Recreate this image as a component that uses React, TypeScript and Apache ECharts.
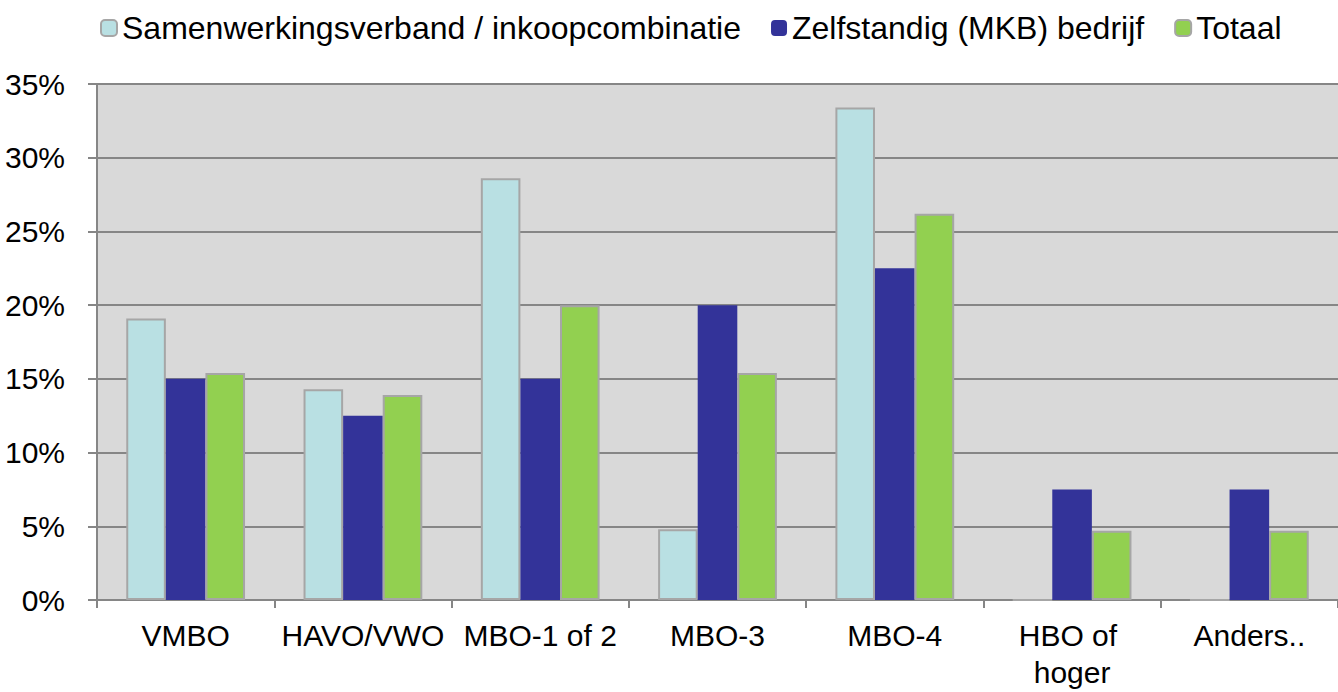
import React, { useEffect, useRef } from "react";
import * as echarts from "echarts";

const categories = ["VMBO", "HAVO/VWO", "MBO-1 of 2", "MBO-3", "MBO-4", "HBO of hoger", "Anders.."];
const seriesNames = ["Samenwerkingsverband / inkoopcombinatie", "Zelfstandig (MKB) bedrijf", "Totaal"];
const samenwerking = [19.1, 14.3, 28.6, 4.8, 33.4, 0, 0];
const zelfstandig = [15.0, 12.5, 15.0, 20.0, 22.5, 7.5, 7.5];
const totaal = [15.4, 13.9, 20.0, 15.4, 26.2, 4.7, 4.7];
const yTicks = { min: 0, max: 35, interval: 5 };

const FONT = "'Liberation Sans', Arial, sans-serif";

export default function App() {
  const ref = useRef<HTMLDivElement>(null);
  useEffect(() => {
    if (!ref.current) return;
    const chart = echarts.init(ref.current, null, { renderer: "svg" });
    const border = "#a6a6a6";
    chart.setOption({
      animation: false,
      backgroundColor: "#ffffff",
      textStyle: { fontFamily: FONT },
      legend: {
        left: 95,
        top: 7,
        itemWidth: 16,
        itemHeight: 16,
        itemGap: 30,
        textStyle: { fontSize: 32, color: "#000", fontFamily: FONT },
        data: seriesNames,
      },
      grid: { left: 97, top: 84, bottom: 92, right: -5, show: true, backgroundColor: "#d9d9d9", borderWidth: 0 },
      xAxis: {
        type: "category",
        data: categories,
        axisLine: { show: true, lineStyle: { color: "#868686", width: 2 } },
        axisTick: { show: true, length: 8, lineStyle: { color: "#868686", width: 2 } },
        axisLabel: {
          interval: 0,
          fontSize: 30,
          color: "#000",
          fontFamily: FONT,
          margin: 17,
          width: 170,
          overflow: "break",
          lineHeight: 37,
        },
      },
      yAxis: {
        type: "value",
        min: yTicks.min,
        max: yTicks.max,
        interval: yTicks.interval,
        axisLine: { show: true, lineStyle: { color: "#868686", width: 2 } },
        axisTick: { show: true, length: 9, lineStyle: { color: "#868686", width: 2 } },
        splitLine: { show: true, lineStyle: { color: "#868686", width: 2 } },
        axisLabel: {
          fontSize: 30,
          color: "#000",
          fontFamily: FONT,
          margin: 32,
          formatter: (v: number) => v + "%",
        },
      },
      series: [
        {
          name: seriesNames[0],
          type: "bar",
          data: samenwerking,
          barGap: "0%",
          barCategoryGap: "33%",
          itemStyle: { color: "#b9e0e3", borderColor: border, borderWidth: 2 },
        },
        {
          name: seriesNames[1],
          type: "bar",
          data: zelfstandig,
          barGap: "0%",
          barCategoryGap: "33%",
          itemStyle: { color: "#333399", borderWidth: 0 },
        },
        {
          name: seriesNames[2],
          type: "bar",
          data: totaal,
          barGap: "0%",
          barCategoryGap: "33%",
          itemStyle: { color: "#92d050", borderColor: border, borderWidth: 2 },
        },
      ],
    });
    return () => chart.dispose();
  }, []);
  return (
    <div
      ref={ref}
      style={{ position: "absolute", left: 0, top: 0, width: 1338, height: 692 }}
    />
  );
}
